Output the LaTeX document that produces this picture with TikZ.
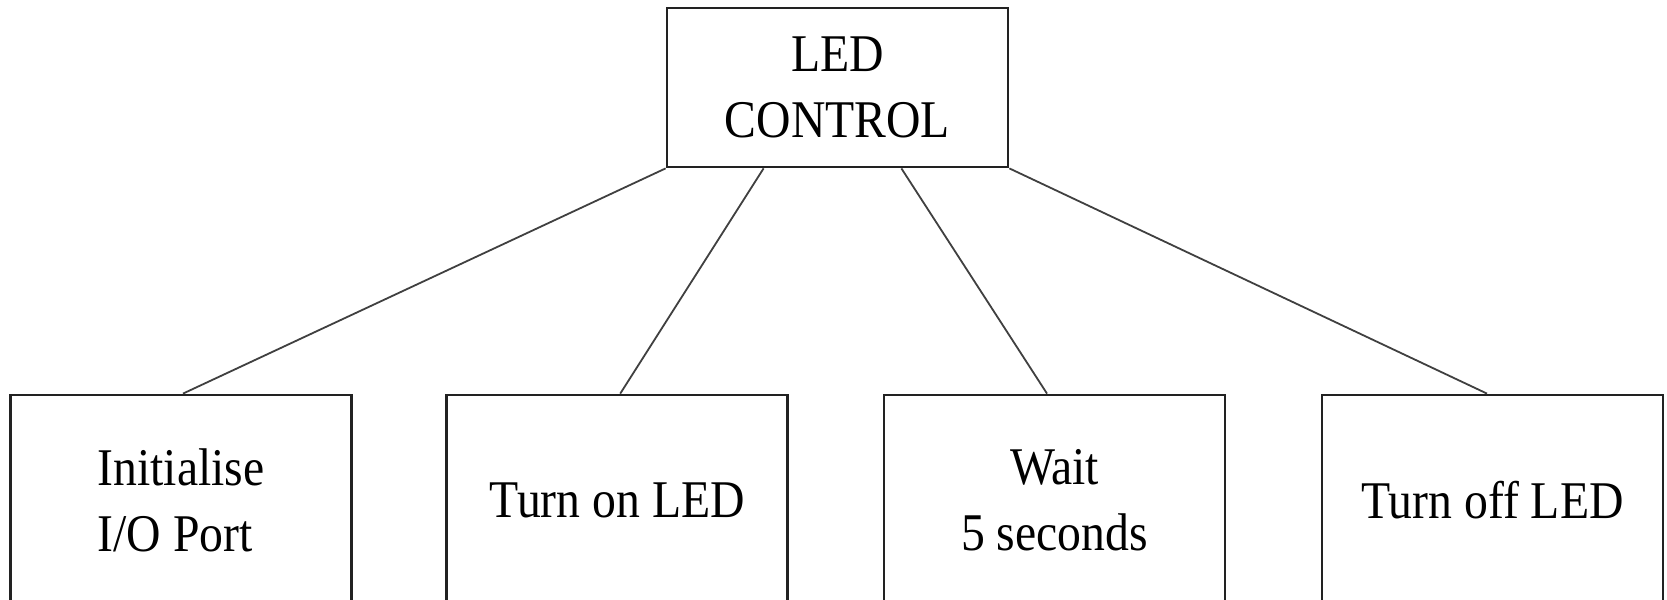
\documentclass[tikz,border=0pt]{standalone}
\usepackage{fontspec}
\setmainfont{Liberation Serif}[FakeStretch=0.9]
\definecolor{boxline}{HTML}{222222}
\definecolor{connc}{HTML}{404040}
\begin{document}
\begin{tikzpicture}[x=0.5pt,y=-0.5pt,
  blk/.style={draw=boxline, line width=1.4pt, minimum width=170.5pt, align=center, inner sep=0pt, font=\fontsize{26.5pt}{33pt}\selectfont},
  conn/.style={draw=connc, line width=0.9pt}]
\useasboundingbox (0,0) rectangle (1667,600);
\clip (0,0) rectangle (1667,600);
\node[blk, minimum height=79.5pt] (top) at (837.5,87.5) {LED\\CONTROL};
\node[blk, minimum height=105pt, align=left] (b1) at (181,500) {Initialise\\I/O Port};
\node[blk, minimum height=105pt] (b2) at (617.25,500) {Turn on LED};
\node[blk, minimum height=105pt] (b3) at (1054.5,500) {Wait\\5 seconds};
\node[blk, minimum height=105pt] (b4) at (1492.5,500) {Turn off LED};
\draw[conn] (top.south west) -- ([xshift=1pt]b1.north);
\draw[conn] ([xshift=49pt]top.south west) -- ([xshift=1.5pt]b2.north);
\draw[conn] ([xshift=-54pt]top.south east) -- ([xshift=-3.75pt]b3.north);
\draw[conn] (top.south east) -- ([xshift=-2.75pt]b4.north);
\end{tikzpicture}
\end{document}
